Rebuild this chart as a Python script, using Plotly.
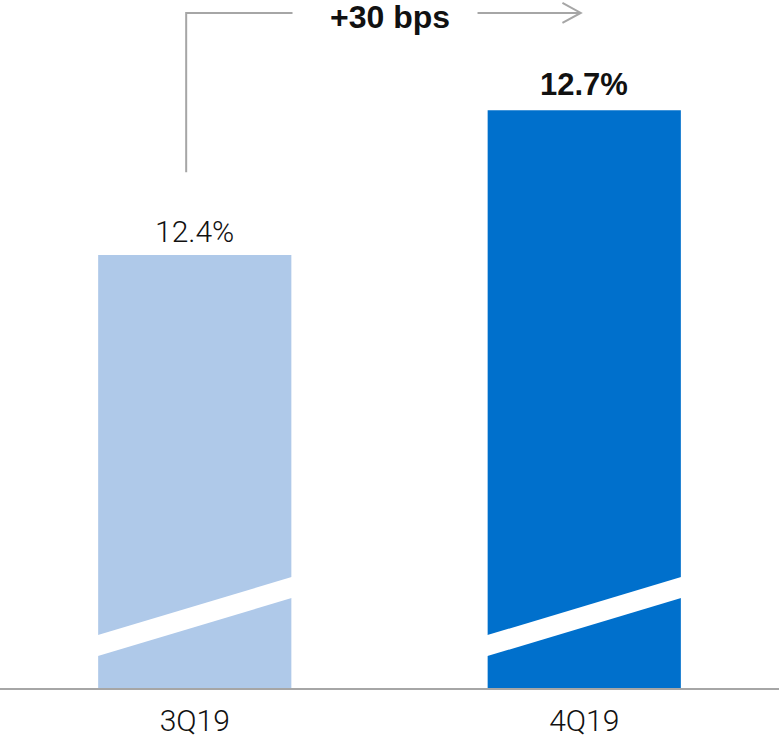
import plotly.graph_objects as go

# Quarterly ratio, in percent
quarters = ["3Q19", "4Q19"]
ratio_pct = [12.4, 12.7]
bar_colors = ["#AFC9E9", "#0070CC"]
change_label = "+30 bps"

W, H = 779, 742
GRAY = "#A6A6A6"

# Broken value axis: only the top of each bar is shown
Y_MIN, Y_MAX = 11.504, 12.928

fig = go.Figure(
    go.Bar(
        x=quarters,
        y=ratio_pct,
        marker=dict(color=bar_colors, line=dict(width=0)),
        hoverinfo="skip",
    )
)

shapes = []

# White diagonal stripe across each bar marking the axis break
half = 0.27
slope = 0.2419
upper_c, lower_c = 11.6737, 11.6302
for i in range(len(quarters)):
    x0, x1 = i - half, i + half
    path = (
        f"M {x0} {lower_c - slope * half} "
        f"L {x0} {upper_c - slope * half} "
        f"L {x1} {upper_c + slope * half} "
        f"L {x1} {lower_c + slope * half} Z"
    )
    shapes.append(dict(type="path", path=path, xref="x", yref="y",
                       fillcolor="white", line=dict(width=0), layer="above"))

# Connector from the first bar to the second, with an open arrowhead
y_line = 12.9012
line_style = dict(color=GRAY, width=2)
shapes.append(dict(type="path", xref="x", yref="y", line=line_style,
                   path=f"M -0.022 12.5716 L -0.022 {y_line} L 0.251 {y_line}"))
shapes.append(dict(type="line", xref="x", yref="y", line=line_style,
                   x0=0.726, x1=0.991, y0=y_line, y1=y_line))
shapes.append(dict(type="path", xref="x", yref="y", line=line_style,
                   path=f"M 0.944 {y_line + 0.0207} L 0.991 {y_line} L 0.944 {y_line - 0.0207}"))

annotations = []
for i, (q, v) in enumerate(zip(quarters, ratio_pct)):
    bold = i == len(quarters) - 1
    annotations.append(dict(
        x=q, y=v, xref="x", yref="y", text=f"{v:.1f}%", showarrow=False,
        yanchor="bottom", yshift=4 if not bold else 6,
        font=dict(family="Liberation Sans" if bold else "Roboto",
                  size=31 if bold else 30,
                  weight="bold" if bold else 300, color="#111111"),
    ))
annotations.append(dict(
    x=0.5, y=y_line, xref="x", yref="y", text=change_label, showarrow=False,
    yanchor="middle", yshift=-4,
    font=dict(family="Liberation Sans", size=32, weight="bold", color="#111111"),
))

fig.update_layout(
    width=W, height=H,
    margin=dict(l=0, r=0, t=0, b=54),
    paper_bgcolor="white", plot_bgcolor="white",
    bargap=0.504,
    showlegend=False,
    shapes=shapes,
    annotations=annotations,
    xaxis=dict(
        range=[-0.5, 1.5], showgrid=False, zeroline=False,
        showline=True, linecolor=GRAY, linewidth=2, ticks="",
        ticklabelstandoff=5, automargin=False,
        tickfont=dict(family="Roboto", size=30, weight=300, color="#111111"),
        fixedrange=True,
    ),
    yaxis=dict(range=[Y_MIN, Y_MAX], visible=False, fixedrange=True),
)

fig.write_html("out.html")
